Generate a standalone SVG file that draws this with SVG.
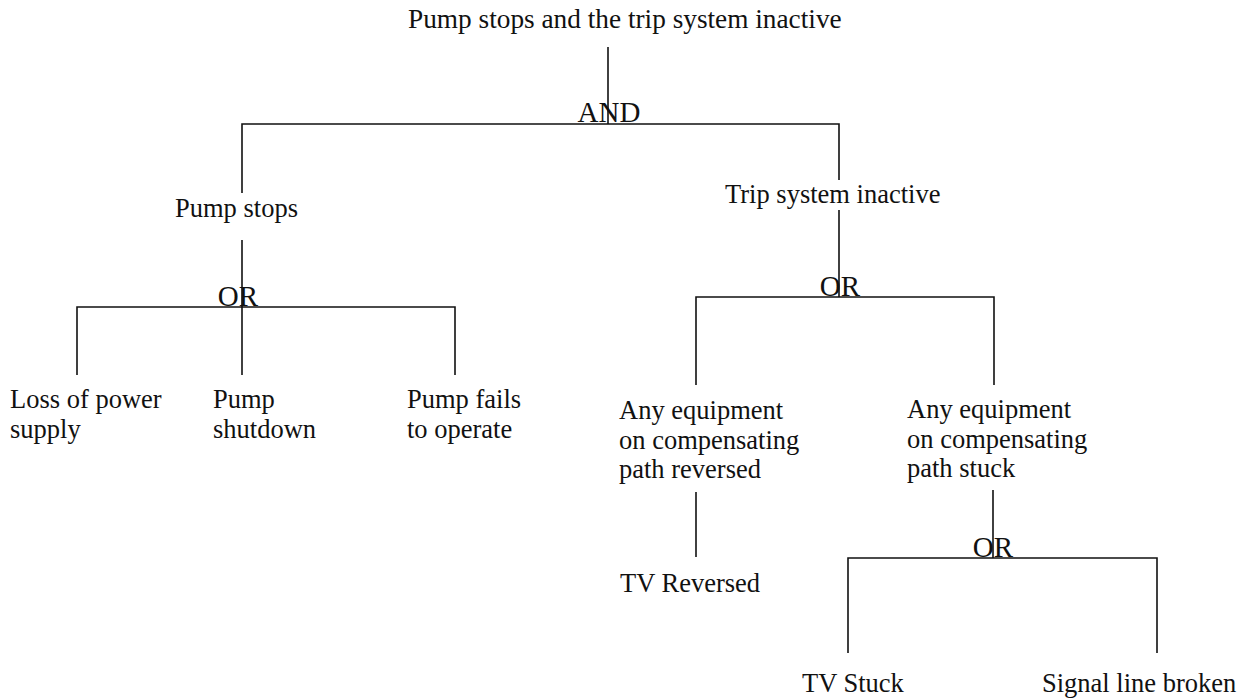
<svg xmlns="http://www.w3.org/2000/svg" width="1239" height="700" viewBox="0 0 1239 700">
  <style>
    .lbl { font-family: "Liberation Serif", "Times New Roman", serif; font-size: 26.5px; fill: #111; }
    .title { font-size: 27.3px; }
    .gate { font-family: "Liberation Serif", "Times New Roman", serif; font-size: 29px; fill: #111; }
    .wire { stroke: #111; stroke-width: 1.6; fill: none; }
  </style>
  <rect width="1239" height="700" fill="#fff"/>

  <!-- connectors and gate bars -->
  <g id="connectors" class="wire">
    <!-- top event to AND -->
    <line x1="608" y1="47" x2="608" y2="124"/>
    <polyline points="242,193 242,124 839,124 839,180"/>
    <!-- Pump stops to OR -->
    <line x1="242" y1="240" x2="242" y2="375"/>
    <polyline points="77,375 77,307 455,307 455,375"/>
    <!-- Trip system inactive to OR -->
    <line x1="839" y1="210" x2="839" y2="297"/>
    <polyline points="696,385 696,297 994,297 994,385"/>
    <!-- reversed branch -->
    <line x1="696" y1="492" x2="696" y2="557"/>
    <!-- stuck branch to OR -->
    <line x1="993" y1="490" x2="993" y2="558"/>
    <polyline points="848,653 848,558 1157,558 1157,653"/>
  </g>

  <!-- gates -->
  <g id="gate-and"><text class="gate" x="609" y="122" text-anchor="middle">AND</text></g>
  <g id="gate-or-pump"><text class="gate" x="238" y="306" text-anchor="middle">OR</text></g>
  <g id="gate-or-trip"><text class="gate" x="840" y="296" text-anchor="middle">OR</text></g>
  <g id="gate-or-stuck"><text class="gate" x="993" y="557" text-anchor="middle">OR</text></g>

  <!-- events -->
  <g id="top-event"><text class="lbl title" x="408" y="28">Pump stops and the trip system inactive</text></g>
  <g id="pump-stops"><text class="lbl" x="175" y="217">Pump stops</text></g>
  <g id="trip-inactive"><text class="lbl" x="725" y="203">Trip system inactive</text></g>
  <g id="loss-power"><text class="lbl" x="10" y="408">Loss of power<tspan x="10" dy="30">supply</tspan></text></g>
  <g id="pump-shutdown"><text class="lbl" x="213" y="408">Pump<tspan x="213" dy="30">shutdown</tspan></text></g>
  <g id="pump-fails"><text class="lbl" x="407" y="408">Pump fails<tspan x="407" dy="30">to operate</tspan></text></g>
  <g id="path-reversed"><text class="lbl" x="619" y="419">Any equipment<tspan x="619" dy="29.5">on compensating</tspan><tspan x="619" dy="29.5">path reversed</tspan></text></g>
  <g id="path-stuck"><text class="lbl" x="907" y="418">Any equipment<tspan x="907" dy="29.5">on compensating</tspan><tspan x="907" dy="29.5">path stuck</tspan></text></g>
  <g id="tv-reversed"><text class="lbl" x="620" y="592">TV Reversed</text></g>
  <g id="tv-stuck"><text class="lbl" x="802" y="692">TV Stuck</text></g>
  <g id="signal-broken"><text class="lbl" x="1042" y="692">Signal line broken</text></g>
</svg>
